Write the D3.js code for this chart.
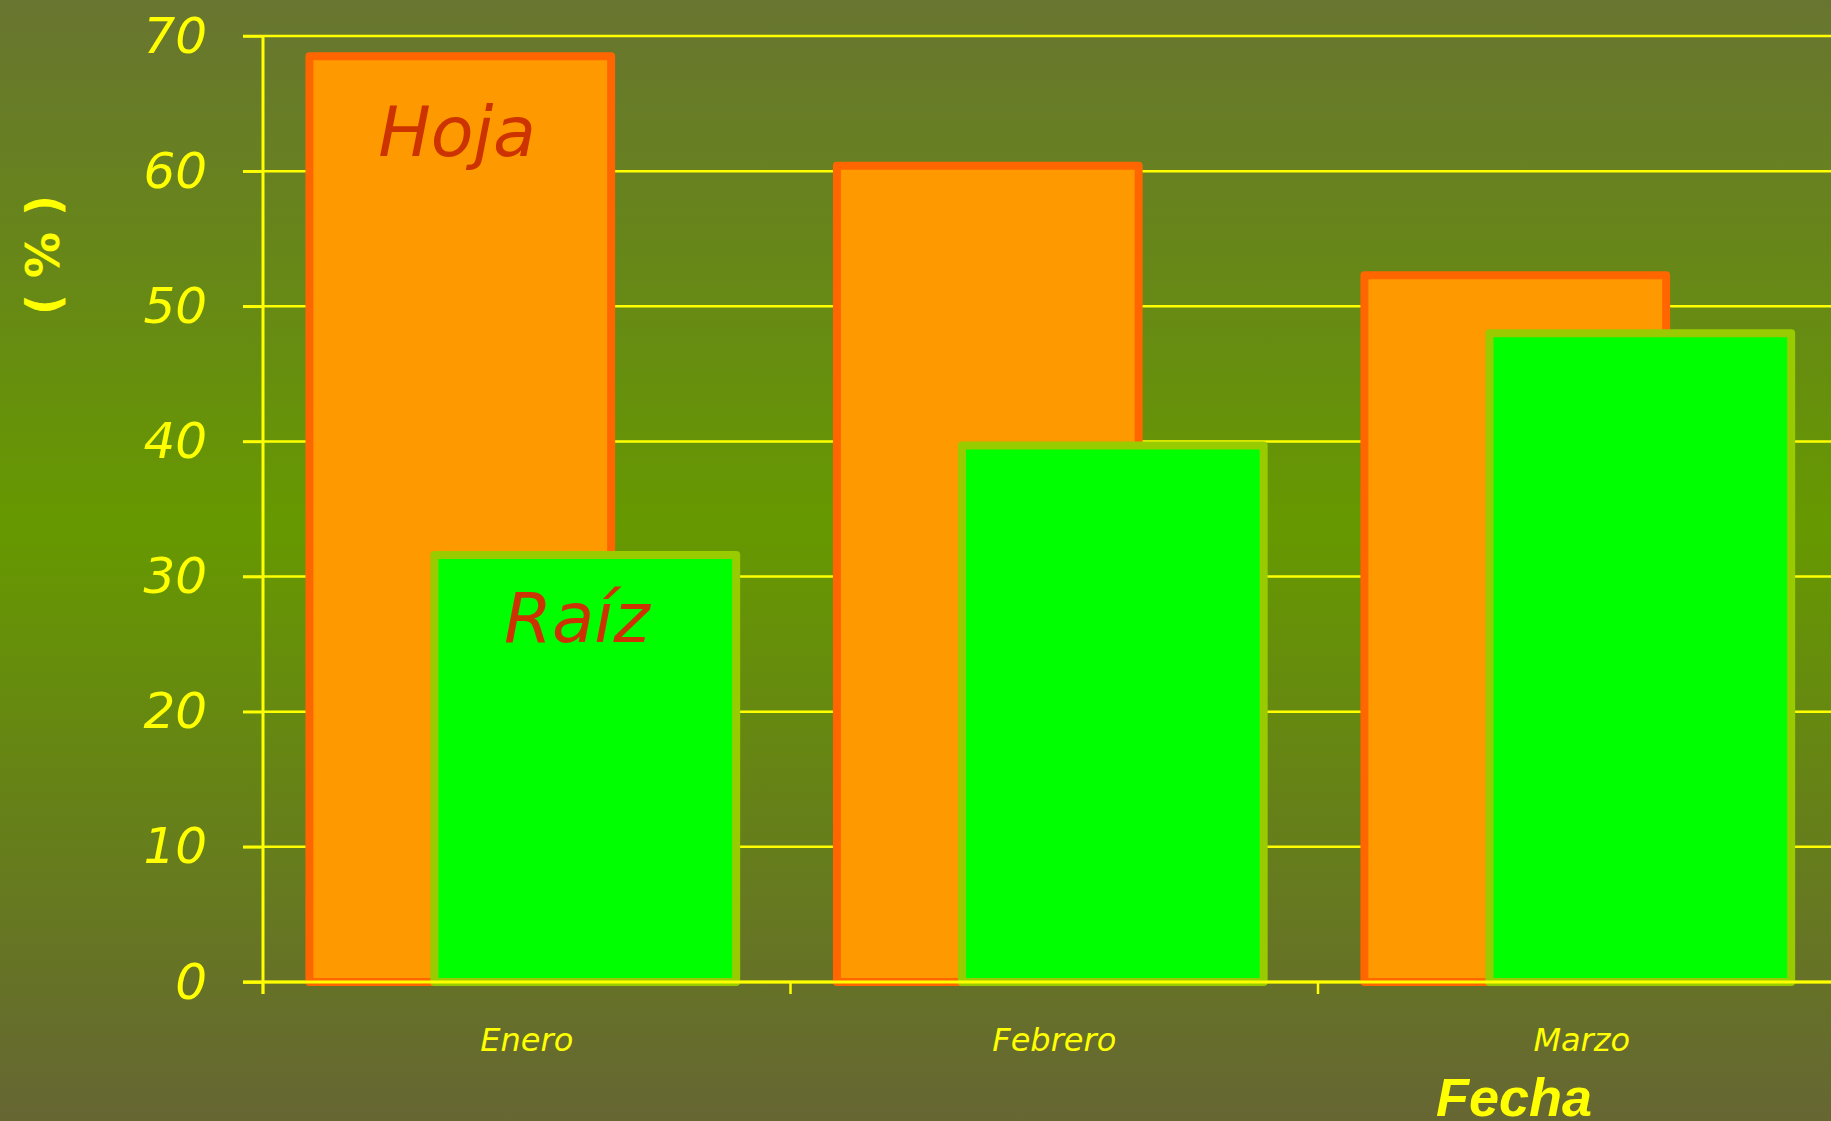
<!DOCTYPE html>
<html>
<head>
<script src="https://d3js.org/d3.v7.min.js"></script>
<style>
body { margin: 0; background: #666633; overflow: hidden; }
</style>
</head>
<body>
<div id="chart"></div>
<script>
// chart values
const months = ["Enero", "Febrero", "Marzo"];
const hoja = [68.5, 60.4, 52.3];
const raiz = [31.6, 39.7, 48.0];
const yTicks = [0, 10, 20, 30, 40, 50, 60, 70];

const width = 1831;
const height = 1121;
const marginLeft = 263;
const marginTop = 36;
const marginBottom = 139;
const bandW = 527.5;

const svg = d3.select("#chart").append("svg")
    .attr("width", width)
    .attr("height", height);

// background gradient
const grad = svg.append("defs").append("linearGradient")
    .attr("id", "bg")
    .attr("x1", 0).attr("y1", 0).attr("x2", 0).attr("y2", 1);
grad.append("stop").attr("offset", "0%").attr("stop-color", "#687530");
grad.append("stop").attr("offset", "47%").attr("stop-color", "#669900");
grad.append("stop").attr("offset", "100%").attr("stop-color", "#666633");
svg.append("rect").attr("width", width).attr("height", height).attr("fill", "url(#bg)");

const x = d3.scaleBand()
    .domain(months)
    .range([marginLeft, marginLeft + bandW * months.length])
    .padding(0);

const y = d3.scaleLinear()
    .domain([0, 70])
    .range([height - marginBottom, marginTop]);

// gridlines
svg.append("g")
  .selectAll("line")
  .data(yTicks)
  .join("line")
    .attr("x1", marginLeft - 20)
    .attr("x2", width)
    .attr("y1", d => y(d))
    .attr("y2", d => y(d))
    .attr("stroke", "#ffff00")
    .attr("stroke-width", 2.5);

const bw = x.bandwidth();
const sw = 8;

// Hoja bars
svg.append("g")
  .selectAll("rect")
  .data(months)
  .join("rect")
    .attr("x", (d, i) => x(d) + 0.088 * bw)
    .attr("width", 0.572 * bw)
    .attr("y", (d, i) => y(hoja[i]))
    .attr("height", (d, i) => y(0) - y(hoja[i]))
    .attr("fill", "#ff9900")
    .attr("stroke", "#ff6600")
    .attr("stroke-width", sw)
    .attr("stroke-linejoin", "round");

// Raiz bars
svg.append("g")
  .selectAll("rect")
  .data(months)
  .join("rect")
    .attr("x", (d, i) => x(d) + 0.325 * bw)
    .attr("width", 0.572 * bw)
    .attr("y", (d, i) => y(raiz[i]))
    .attr("height", (d, i) => y(0) - y(raiz[i]))
    .attr("fill", "#00ff00")
    .attr("stroke", "#99cc00")
    .attr("stroke-width", sw)
    .attr("stroke-linejoin", "round");

// series labels
svg.append("text")
    .attr("x", x("Enero") + 0.088 * bw + 0.28 * bw)
    .attr("y", y(hoja[0]) + 100)
    .attr("text-anchor", "middle")
    .attr("font-family", "DejaVu Sans")
    .attr("font-weight", 200)
    .attr("font-style", "italic")
    .attr("font-size", 70)
    .attr("fill", "#cc3300")
    .text("Hoja");

svg.append("text")
    .attr("x", x("Enero") + 0.325 * bw + 0.27 * bw)
    .attr("y", y(raiz[0]) + 87)
    .attr("text-anchor", "middle")
    .attr("font-family", "DejaVu Sans")
    .attr("font-weight", 200)
    .attr("font-style", "italic")
    .attr("font-size", 69)
    .attr("fill", "#cc3300")
    .text("Raíz");

// y axis
svg.append("g")
    .attr("transform", `translate(${marginLeft},0)`)
    .call(d3.axisLeft(y).tickValues(yTicks).tickSize(20).tickPadding(36).tickSizeOuter(0))
    .call(g => g.select(".domain").remove())
    .call(g => g.selectAll(".tick line").attr("stroke", "#ffff00").attr("stroke-width", 2.5))
    .call(g => g.selectAll(".tick text")
        .attr("fill", "#ffff00")
        .attr("font-family", "DejaVu Sans")
        .attr("font-weight", 200)
        .attr("font-style", "italic")
        .attr("font-size", 50));

svg.append("line")
    .attr("x1", marginLeft).attr("x2", marginLeft)
    .attr("y1", y(70)).attr("y2", y(0) + 12)
    .attr("stroke", "#ffff00")
    .attr("stroke-width", 3);

// x axis
svg.append("g")
    .attr("transform", `translate(0,${y(0)})`)
    .call(d3.axisBottom(x).tickSize(0).tickPadding(46).tickSizeOuter(0))
    .call(g => g.select(".domain").remove())
    .call(g => g.selectAll(".tick text")
        .attr("fill", "#ffff00")
        .attr("font-family", "DejaVu Sans")
        .attr("font-weight", 200)
        .attr("font-style", "italic")
        .attr("font-size", 32));

svg.append("line")
    .attr("x1", marginLeft - 20).attr("x2", width)
    .attr("y1", y(0)).attr("y2", y(0))
    .attr("stroke", "#ffff00")
    .attr("stroke-width", 3);

svg.append("g")
  .selectAll("line")
  .data(months)
  .join("line")
    .attr("x1", d => x(d))
    .attr("x2", d => x(d))
    .attr("y1", y(0))
    .attr("y2", y(0) + 12)
    .attr("stroke", "#ffff00")
    .attr("stroke-width", 2.5);

// axis titles
svg.append("text")
    .attr("x", 1514)
    .attr("y", 1116)
    .attr("text-anchor", "middle")
    .attr("font-family", "Liberation Sans")
    .attr("font-weight", "bold")
    .attr("font-style", "italic")
    .attr("font-size", 54)
    .attr("fill", "#ffff00")
    .text("Fecha");

svg.append("text")
    .attr("transform", "translate(43,255) rotate(-90)")
    .attr("text-anchor", "middle")
    .attr("dominant-baseline", "central")
    .attr("font-family", "DejaVu Sans")
    .attr("font-weight", "bold")
    .attr("font-size", 46)
    .attr("fill", "#ffff00")
    .text("( % )");
</script>
</body>
</html>
